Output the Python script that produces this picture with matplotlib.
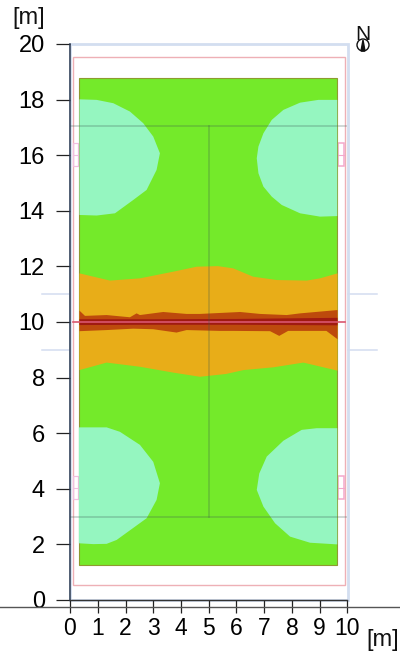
import numpy as np
import matplotlib
matplotlib.use("Agg")
from matplotlib import pyplot as plt
from matplotlib.patches import Rectangle, Ellipse, Polygon

plt.rcParams['font.family'] = ['Liberation Sans', 'DejaVu Sans']

# outlines, metres
field_x = [0.32, 9.63]
field_y = [1.25, 18.78]

tl_x = [0.34, 0.96, 1.56, 2.16, 2.64, 3.00, 3.24, 3.12, 2.76, 2.28, 1.62, 0.96, 0.34]
tl_y = [18.01, 17.99, 17.87, 17.57, 17.15, 16.67, 16.07, 15.47, 14.75, 14.39, 13.91, 13.83, 13.85]
tr_x = [9.63, 8.95, 8.29, 7.69, 7.27, 6.97, 6.79, 6.73, 6.79, 6.97, 7.27, 7.63, 8.29, 9.01, 9.63]
tr_y = [17.99, 17.99, 17.89, 17.63, 17.27, 16.79, 16.31, 15.89, 15.35, 14.87, 14.51, 14.21, 13.91, 13.79, 13.81]
bl_x = [0.32, 1.32, 1.80, 2.52, 3.00, 3.24, 3.12, 2.76, 1.68, 1.32, 0.84, 0.32]
bl_y = [6.21, 6.21, 6.05, 5.58, 4.97, 4.20, 3.60, 2.94, 2.16, 2.02, 2.01, 2.04]
br_x = [9.63, 8.89, 8.35, 7.69, 7.09, 6.82, 6.73, 6.97, 7.39, 7.93, 8.65, 9.63]
br_y = [6.18, 6.18, 6.12, 5.73, 5.16, 4.55, 3.96, 3.36, 2.76, 2.28, 2.06, 2.00]

orange_top_x = [0.34, 1.44, 2.52, 3.72, 4.57, 5.33, 5.88, 6.60, 7.45, 8.53, 9.01, 9.64]
orange_top_y = [11.75, 11.49, 11.57, 11.81, 11.99, 12.01, 11.93, 11.63, 11.51, 11.49, 11.57, 11.75]
orange_bot_x = [0.34, 1.32, 2.52, 3.72, 4.68, 5.62, 6.25, 7.33, 8.41, 9.64]
orange_bot_y = [8.27, 8.54, 8.39, 8.18, 8.03, 8.13, 8.27, 8.37, 8.54, 8.25]

brown_top_x = [0.34, 0.54, 1.32, 2.16, 2.40, 2.52, 3.36, 4.20, 4.68, 6.13, 6.85, 7.81, 8.29, 9.64]
brown_top_y = [10.41, 10.22, 10.25, 10.17, 10.31, 10.25, 10.36, 10.29, 10.29, 10.36, 10.29, 10.25, 10.31, 10.43]
brown_bot_x = [0.34, 1.32, 2.28, 3.00, 3.84, 4.20, 5.40, 5.88, 7.21, 7.54, 7.86, 9.24, 9.64]
brown_bot_y = [9.67, 9.71, 9.76, 9.74, 9.62, 9.71, 9.68, 9.68, 9.67, 9.50, 9.68, 9.68, 9.38]

red_top_x = [0.34, 3.00, 6.00, 9.64]
red_top_y = [10.10, 10.10, 10.11, 10.15]
red_bot_x = [0.34, 3.00, 6.00, 9.64]
red_bot_y = [9.89, 9.90, 9.90, 9.88]

xticks = list(range(0, 11))
yticks = list(range(0, 21, 2))


def band(ax, tx, ty, bx, by, color, z):
    ax.fill(list(tx) + list(bx)[::-1], list(ty) + list(by)[::-1], color=color, lw=0, zorder=z)


fig = plt.figure(figsize=(4.0, 6.55), dpi=100)
ax = fig.add_axes([70 / 400, 1 - 600 / 655, 277.5 / 400, 556 / 655])
ax.set_xlim(0, 10)
ax.set_ylim(0, 20)

# ground plan behind the results
ax.add_patch(Rectangle((0.0, 0.0), 10.03, 20, fill=False, ec="#d3def0", lw=2.0, clip_on=False, zorder=1))
ax.add_patch(Rectangle((0.1, 0.54), 9.8, 19.01, fill=False, ec="#eeb0b6", lw=1.0, zorder=2))
for y0 in [3.63, 15.61]:
    ax.add_patch(Rectangle((0.1, y0), 0.2, 0.82, fc="none", ec="#f2c0e0", lw=0.9, zorder=2))
    ax.add_patch(Rectangle((9.64, y0), 0.25, 0.82, fc="none", ec="#f4a8cc", lw=1.1, zorder=2))
    ax.plot([0.1, 0.3], [y0 + 0.41, y0 + 0.41], color="#f2c0e0", lw=0.8, zorder=2)
    ax.plot([9.64, 9.89], [y0 + 0.41, y0 + 0.41], color="#f4a8cc", lw=0.8, zorder=2)
for y0 in [9.0, 11.02]:
    ax.plot([-1.0, 0], [y0, y0], color="#d3dcf0", lw=1.1, clip_on=False, zorder=1)
    ax.plot([10.03, 11.05], [y0, y0], color="#d3dcf0", lw=1.1, clip_on=False, zorder=1)

# isolux areas
ax.add_patch(Rectangle((field_x[0], field_y[0]), field_x[1] - field_x[0], field_y[1] - field_y[0],
                       fc="#74ea2a", ec="#8f9a30", lw=0.8, zorder=3))
for bx, by in [(tl_x, tl_y), (tr_x, tr_y), (bl_x, bl_y), (br_x, br_y)]:
    ax.fill(bx, by, color="#95f6c0", lw=0, zorder=4)
band(ax, orange_top_x, orange_top_y, orange_bot_x, orange_bot_y, "#e8ad18", 5)
band(ax, brown_top_x, brown_top_y, brown_bot_x, brown_bot_y, "#bd4a0c", 6)
band(ax, red_top_x, red_top_y, red_bot_x, red_bot_y, "#a01a10", 7)
ax.plot([0.1, 9.9], [10.0, 10.0], color="#d9566e", lw=1.2, zorder=8)

# building lines on top
line_c = "#3c5a50"
ax.plot([0, 10], [17.05, 17.05], color=line_c, lw=1.2, alpha=0.28, zorder=9)
ax.plot([0, 10], [2.98, 2.98], color=line_c, lw=1.2, alpha=0.28, zorder=9)
ax.plot([5.0, 5.0], [2.98, 17.05], color=line_c, lw=1.2, alpha=0.28, zorder=9)

for s in ["top", "right"]:
    ax.spines[s].set_visible(False)
ax.spines["left"].set_color("#2c3a50")
ax.spines["left"].set_linewidth(1.1)
ax.spines["bottom"].set_color("#333333")
ax.spines["bottom"].set_linewidth(1.0)
ax.spines["bottom"].set_zorder(10)
ax.spines["left"].set_zorder(10)
ax.set_xticks(xticks)
ax.set_yticks(yticks)
ax.tick_params(axis="x", length=9.4, width=0.9, color="#222222", labelsize=16.5, pad=3)
ax.tick_params(axis="y", length=10, width=0.9, color="#222222", labelsize=17, pad=8)

# long baseline under the plot
fig.add_artist(plt.Line2D([0, 1], [1 - 607 / 655, 1 - 607 / 655], color="#555555", lw=1.0))

fig.text(29 / 400, 1 - 18 / 655, "[m]", fontsize=17, ha="center", va="center", color="#111111")
fig.text(383 / 400, 1 - 640 / 655, "[m]", fontsize=17, ha="center", va="center", color="#111111")

# north arrow
fx = lambda p: 10 * (p - 70) / 277.5
fy = lambda p: 20 * (600 - p) / 556
fig.text(363 / 400, 1 - 35 / 655, "N", fontsize=15, ha="center", va="center", color="#111111")
ax.add_patch(Ellipse((fx(363), fy(45)), 12 * 10 / 277.5, 12 * 20 / 556, fc="none", ec="#111111",
                     lw=1.0, clip_on=False, zorder=11))
ax.add_patch(Polygon([(fx(363), fy(40)), (fx(361), fy(51)), (fx(365), fy(51))], color="#111111",
                     clip_on=False, zorder=12))

fig.savefig("out.png", dpi=100)
